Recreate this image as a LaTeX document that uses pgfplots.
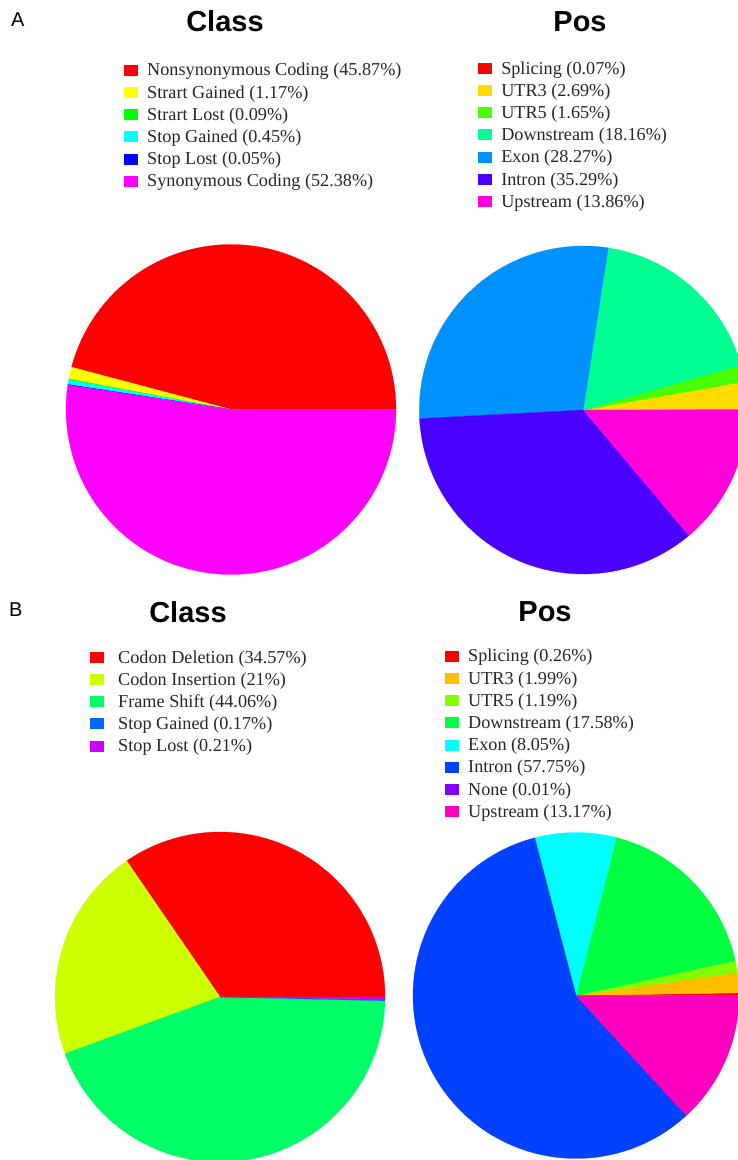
\documentclass[border=0pt]{standalone}
\usepackage{pgfplots}
\pgfplotsset{compat=1.18}
\usepackage{fontspec}
\setmainfont{Liberation Serif}
\newfontfamily\arial{Liberation Sans}

% rainbow palettes
\definecolor{aA1}{HTML}{FF0000}\definecolor{aA2}{HTML}{FFFF00}\definecolor{aA3}{HTML}{00FF00}
\definecolor{aA4}{HTML}{00FFFF}\definecolor{aA5}{HTML}{0000FF}\definecolor{aA6}{HTML}{FF00FF}
\definecolor{aB1}{HTML}{FF0000}\definecolor{aB2}{HTML}{FFDB00}\definecolor{aB3}{HTML}{49FF00}
\definecolor{aB4}{HTML}{00FF92}\definecolor{aB5}{HTML}{0092FF}\definecolor{aB6}{HTML}{4900FF}
\definecolor{aB7}{HTML}{FF00DB}
\definecolor{bA1}{HTML}{FF0000}\definecolor{bA2}{HTML}{CCFF00}\definecolor{bA3}{HTML}{00FF66}
\definecolor{bA4}{HTML}{0066FF}\definecolor{bA5}{HTML}{CC00FF}
\definecolor{bB1}{HTML}{FF0000}\definecolor{bB2}{HTML}{FFBF00}\definecolor{bB3}{HTML}{80FF00}
\definecolor{bB4}{HTML}{00FF40}\definecolor{bB5}{HTML}{00FFFF}\definecolor{bB6}{HTML}{0040FF}
\definecolor{bB7}{HTML}{8000FF}\definecolor{bB8}{HTML}{FF00BF}

% slice from cumulative percent #1 to #2
\newcommand\pieslice[4]{%
  \addplot[draw=#3, line width=0.25pt, fill=#3, domain=#1:#2, samples=120, variable=\t]
    ({cos(3.6*\t)},{sin(3.6*\t)}) -- (axis cs:0,0) -- cycle;
  \addlegendentry{#4}}

\pgfplotsset{
  pieaxis/.style={hide axis, clip=false, xmin=-1, xmax=1, ymin=-1, ymax=1,
    anchor=origin, x=#1, y=#1, legend cell align=left,
    legend image code/.code={\fill[##1] (0pt,-3.75pt) rectangle (13pt,6.25pt);},
    legend style={draw=none, fill=none, inner sep=0pt, outer sep=0pt, anchor=north west,
      font=\fontsize{18.2}{22}\selectfont, text=black!85, row sep=3.7pt,
      nodes={inner sep=0pt, text height=14pt, text depth=4.5pt}}},
}

\begin{document}
\begin{tikzpicture}
\useasboundingbox (0,0) rectangle (738pt,1160pt);
\clip (0,0) rectangle (738pt,1160pt);

% ---------------- A: Class ----------------
\begin{axis}[pieaxis=165pt, at={(231pt,750.5pt)},
  legend style={at={(axis cs:-0.6485,2.1061)}, column sep=10pt}]
\pieslice{0}{45.87}{aA1}{Nonsynonymous Coding (45.87\%)}
\pieslice{45.87}{47.04}{aA2}{Strart Gained (1.17\%)}
\pieslice{47.04}{47.13}{aA3}{Strart Lost (0.09\%)}
\pieslice{47.13}{47.58}{aA4}{Stop Gained (0.45\%)}
\pieslice{47.58}{47.63}{aA5}{Stop Lost (0.05\%)}
\pieslice{47.63}{100}{aA6}{Synonymous Coding (52.38\%)}
\end{axis}

% ---------------- A: Pos ----------------
\begin{axis}[pieaxis=164pt, at={(583.3pt,750pt)},
  legend style={at={(axis cs:-0.642,2.134)}, column sep=10pt}]
\pieslice{0}{0.07}{aB1}{Splicing (0.07\%)}
\pieslice{0.07}{2.76}{aB2}{UTR3 (2.69\%)}
\pieslice{2.76}{4.41}{aB3}{UTR5 (1.65\%)}
\pieslice{4.41}{22.57}{aB4}{Downstream (18.16\%)}
\pieslice{22.57}{50.84}{aB5}{Exon (28.27\%)}
\pieslice{50.84}{86.13}{aB6}{Intron (35.29\%)}
\pieslice{86.13}{100}{aB7}{Upstream (13.86\%)}
\end{axis}

% ---------------- B: Class ----------------
\begin{axis}[pieaxis=165pt, at={(220pt,163pt)},
  legend style={at={(axis cs:-0.788,2.109)}, column sep=15pt}]
\pieslice{0}{34.57}{bA1}{Codon Deletion (34.57\%)}
\pieslice{34.57}{55.57}{bA2}{Codon Insertion (21\%)}
\pieslice{55.57}{99.63}{bA3}{Frame Shift (44.06\%)}
\pieslice{99.63}{99.80}{bA4}{Stop Gained (0.17\%)}
\pieslice{99.80}{100}{bA5}{Stop Lost (0.21\%)}
\end{axis}

% ---------------- B: Pos ----------------
\begin{axis}[pieaxis=163pt, at={(576pt,164.5pt)},
  legend style={at={(axis cs:-0.804,2.132)}, column sep=10pt}]
\pieslice{0}{0.26}{bB1}{Splicing (0.26\%)}
\pieslice{0.26}{2.25}{bB2}{UTR3 (1.99\%)}
\pieslice{2.25}{3.44}{bB3}{UTR5 (1.19\%)}
\pieslice{3.44}{21.02}{bB4}{Downstream (17.58\%)}
\pieslice{21.02}{29.07}{bB5}{Exon (8.05\%)}
\pieslice{29.07}{86.82}{bB6}{Intron (57.75\%)}
\pieslice{86.82}{86.83}{bB7}{None (0.01\%)}
\pieslice{86.83}{100}{bB8}{Upstream (13.17\%)}
\end{axis}

% titles and panel labels
\node[font=\arial\bfseries\fontsize{29}{32}\selectfont, anchor=base, inner sep=0pt] at (225pt,1128pt) {Class};
\node[font=\arial\bfseries\fontsize{29}{32}\selectfont, anchor=base, inner sep=0pt] at (580pt,1128pt) {Pos};
\node[font=\arial\bfseries\fontsize{29}{32}\selectfont, anchor=base, inner sep=0pt] at (188pt,537pt) {Class};
\node[font=\arial\bfseries\fontsize{29}{32}\selectfont, anchor=base, inner sep=0pt] at (545pt,538pt) {Pos};
\node[font=\arial\fontsize{20}{22}\selectfont, anchor=base west, inner sep=0pt] at (11pt,1133pt) {A};
\node[font=\arial\fontsize{20}{22}\selectfont, anchor=base west, inner sep=0pt] at (9pt,543pt) {B};
\end{tikzpicture}
\end{document}
